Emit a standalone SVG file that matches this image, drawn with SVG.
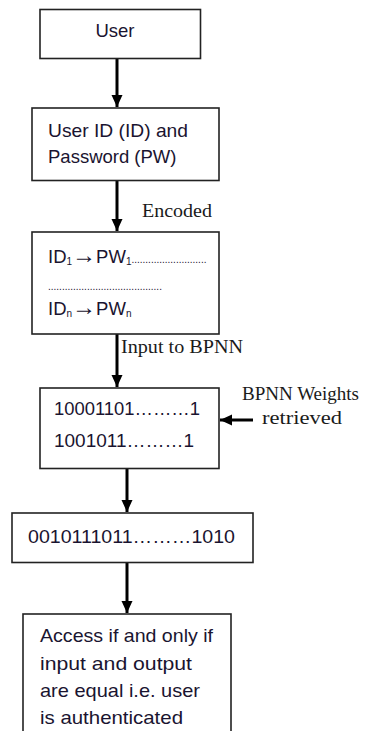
<svg xmlns="http://www.w3.org/2000/svg" width="368" height="731" viewBox="0 0 368 731">
<style>
.box{fill:#fff;stroke:#222;stroke-width:1.6}
.t{font-family:"Liberation Sans",Arial,sans-serif;font-size:18.5px;fill:#1a1430}
.s{font-family:"Liberation Serif","Times New Roman",serif;font-size:19.5px;fill:#1a1a1a}
.ln{stroke:#000;stroke-width:3;fill:none}
.dots{font-size:10px}
.sub{font-size:10px}
.arr{font-size:24px;font-weight:bold}
</style>
<defs>
<marker id="ah" markerUnits="userSpaceOnUse" markerWidth="12" markerHeight="12" refX="12" refY="6" orient="auto">
<path d="M0,0.5 L12,6 L0,11.5 Z" fill="#000"/>
</marker>
</defs>
<rect width="368" height="731" fill="#fff"/>
<g id="connectors">
<line class="ln" x1="117" y1="58" x2="117" y2="107" marker-end="url(#ah)"/>
<line class="ln" x1="117" y1="180" x2="117" y2="231" marker-end="url(#ah)"/>
<line class="ln" x1="117" y1="334" x2="117" y2="387" marker-end="url(#ah)"/>
<line class="ln" x1="253" y1="420" x2="220" y2="420" marker-end="url(#ah)"/>
<line class="ln" x1="127" y1="468" x2="127" y2="512" marker-end="url(#ah)"/>
<line class="ln" x1="127" y1="563" x2="127" y2="613" marker-end="url(#ah)"/>
<text class="s" x="142" y="217" textLength="70" lengthAdjust="spacingAndGlyphs">Encoded</text>
<text class="s" x="121" y="353" textLength="122" lengthAdjust="spacingAndGlyphs">Input to BPNN</text>
<text class="s" x="242" y="400" textLength="117" lengthAdjust="spacingAndGlyphs">BPNN Weights</text>
<text class="s" x="262" y="424" textLength="80" lengthAdjust="spacingAndGlyphs">retrieved</text>
</g>
<g id="user">
<rect class="box" x="40" y="9.5" width="160.5" height="49"/>
<text class="t" x="115" y="37" text-anchor="middle">User</text>
</g>
<g id="credentials">
<rect class="box" x="32" y="108" width="187" height="72.5"/>
<text class="t" x="48" y="137" textLength="140" lengthAdjust="spacingAndGlyphs">User ID (ID) and</text>
<text class="t" x="48" y="163">Password (PW)</text>
</g>
<g id="encoded">
<rect class="box" x="32" y="232" width="187" height="102"/>
<text class="t" x="48" y="263">ID<tspan class="sub" dy="2">1</tspan><tspan class="arr" dy="-2">→</tspan><tspan>PW</tspan><tspan class="sub" dy="2">1</tspan><tspan class="dots" dy="-2">...........................</tspan></text>
<text class="t dots" x="48" y="290">.........................................</text>
<text class="t" x="48" y="315">ID<tspan class="sub" dy="2">n</tspan><tspan class="arr" dy="-2">→</tspan><tspan>PW</tspan><tspan class="sub" dy="2">n</tspan></text>
</g>
<g id="bpnn">
<rect class="box" x="40" y="388" width="179" height="80.5"/>
<text class="t" x="54" y="415" textLength="146" lengthAdjust="spacingAndGlyphs">10001101………1</text>
<text class="t" x="54" y="447" textLength="140" lengthAdjust="spacingAndGlyphs">1001011………1</text>
</g>
<g id="output">
<rect class="box" x="12" y="513" width="241" height="49.5"/>
<text class="t" x="28" y="543" textLength="207" lengthAdjust="spacingAndGlyphs">0010111011………1010</text>
</g>
<g id="access">
<rect class="box" x="23" y="614" width="208" height="130"/>
<text class="t" x="40" y="642" textLength="173" lengthAdjust="spacingAndGlyphs">Access if and only if</text>
<text class="t" x="40" y="670" textLength="152" lengthAdjust="spacingAndGlyphs">input and output</text>
<text class="t" x="40" y="697" textLength="160" lengthAdjust="spacingAndGlyphs">are equal i.e. user</text>
<text class="t" x="40" y="724" textLength="143" lengthAdjust="spacingAndGlyphs">is authenticated</text>
</g>
</svg>
